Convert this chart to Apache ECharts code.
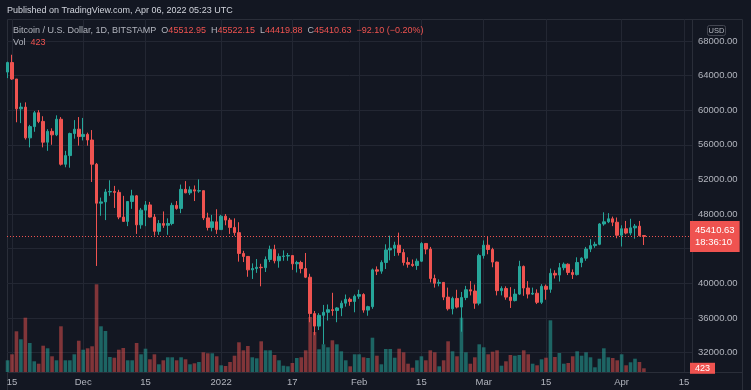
<!DOCTYPE html>
<html><head><meta charset="utf-8">
<script src="https://cdn.jsdelivr.net/npm/echarts@6.0.0/dist/echarts.min.js"></script>
<style>html,body{margin:0;padding:0;background:#131722;}#c{width:751px;height:390px;}</style>
</head><body><div id="c"></div>
<script>
// ---- data (daily BTC/USD, Bitstamp) ----
const firstDate = '2021-11-14';
const openP = [64400,65500,63600,60150,60350,56800,58100,59700,58700,56300,57550,57150,58950,53750,54750,57300,57800,
 56950,57200,56550,53750,49250,49400,50550,50600,50500,47650,47150,49450,50100,46750,48450,49050,47650,46000,46900,46700,46900,49000,48650,50850,50450,50800,50650,50700,47550,46450,47100,
 46200,47750,47300,46450,45850,43450,43100,41550,41700,41850,41800,42750,43900,42600,43100,43150,43200,42250,42400,41700,40700,36500,35050,36300,36650,36950,36850,37150,37700,38150,37900,
 38500,38700,36900,37300,41550,41400,42400,43850,44050,44400,43550,42400,42200,42050,42550,44600,43950,40550,40000,40100,38400,37050,38250,37250,38350,39250,39100,37700,
 43200,44400,43900,42450,39150,39400,38400,38000,38750,41950,39450,38750,38850,37800,39650,39300,41150,40950,41800,42200,41250,41000,42400,42900,43950,44350,44500,46850,47100,47450,47050,
 45550,46300,45800,46400,46600,45512.95];
const highP = [65600,66400,63600,60850,60900,58300,59900,60000,59300,57800,57900,59400,59200,55300,57400,58850,59200,
 59100,57400,57700,53900,49900,50900,51900,51250,50800,50100,49500,50800,50200,48700,49500,49400,48000,47300,48300,47500,49300,49500,51400,51800,51200,51300,52000,50700,48150,47900,48550,
 47900,48000,47550,47500,47050,43750,43150,42300,42800,42250,43100,44350,44450,43450,43800,43500,43200,42600,42600,43500,41100,36800,36550,37500,37550,38900,37250,38000,38700,38350,38700,
 39250,38850,37400,41700,41950,42650,44500,45500,44800,45850,43950,43000,42750,42850,44750,44600,44200,41000,40450,40150,39500,38450,39250,39000,39700,40250,39850,43400,
 44950,45400,44100,42500,39650,39650,39550,39350,42600,42050,40250,39500,39300,39900,39850,41700,41500,42350,42400,42300,41600,43000,43000,44200,45100,44800,46950,48200,48100,47700,47600,
 46700,47200,47450,46850,47200,45522.15];
const lowP = [63700,63500,58600,58500,56600,55700,57500,58500,55700,55300,56000,57000,53600,53400,53350,56700,55900,
 56500,55900,51700,42000,47800,47300,50100,48700,47400,47100,46600,48600,45700,46300,46600,47600,45500,45600,46400,45600,46700,48500,48100,50400,50200,49500,50450,47300,46100,46000,45700,
 46200,46700,45700,45500,42500,42450,40750,40500,41200,39650,41300,42450,42300,41800,42600,42600,41550,41250,41150,40600,35500,34000,34600,32950,35700,36250,35500,36200,37300,37400,36650,
 38200,36600,36250,37050,40950,41100,41650,42650,43150,43200,42050,41800,41900,41550,42450,43350,40100,39500,39650,38050,36850,36400,37100,34400,38050,38600,37050,37450,
 42850,43350,41850,38600,38600,38100,37150,37900,38650,38550,38250,38650,37600,37600,38100,38900,40550,40200,41500,40950,40500,40900,41850,42600,43600,44100,44400,46650,46950,46600,45200,
 44250,45650,45550,45150,45400,44419.88];
const closeP = [65500,63600,60150,60350,56800,58100,59700,58700,56300,57550,57150,58950,53750,54750,57300,57800,56950,
 57200,56550,53750,49250,49400,50550,50600,50500,47650,47150,49450,50100,46750,48450,49050,47650,46000,46900,46700,46900,49000,48650,50850,50450,50800,50650,50700,47550,46450,47100,46200,
 47750,47300,46450,45850,43450,43100,41550,41700,41850,41800,42750,43900,42600,43100,43150,43200,42250,42400,41700,40700,36500,35050,36300,36650,36950,36850,37150,37700,38150,37900,38500,
 38700,36900,37300,41550,41400,42400,43850,44050,44400,43550,42400,42200,42050,42550,44600,43950,40550,40000,40100,38400,37050,38250,37250,38350,39250,39100,37700,43200,
 44400,43900,42450,39150,39400,38400,38000,38750,41950,39450,38750,38850,37800,39650,39300,41150,40950,41800,42200,41250,41000,42400,42900,43950,44350,44500,46850,47100,47450,47050,45550,
 46300,45800,46400,46600,45500,45410.63];
const volume = [1334,2018,4640,3728,6190,3306,1220,946,2998,2702,1790,1334,5210,1334,1334,2018,3568,
 2542,2702,2930,9998,5210,4674,1710,1630,2542,2736,1334,1334,3306,2018,2656,1448,2018,878,1334,1676,1676,1334,1676,1448,878,992,1140,2246,2132,2132,1790,
 764,684,1140,1858,3386,2474,2964,1676,1562,3500,2474,2474,1938,1334,718,650,1026,1596,1676,2474,6270,4560,2588,3158,2816,3614,3158,2360,1334,650,2018,
 2018,1676,1596,3910,1858,878,2622,2622,1630,2656,2246,946,490,1334,1790,1334,2474,2246,650,1334,3500,2360,1790,6190,2246,946,1676,3158,
 2816,2018,2314,2474,718,1220,1938,1858,1938,2474,2018,946,764,1448,1630,5894,1710,2166,946,1026,1790,2360,1858,2246,1676,536,1516,2702,1676,1596,1334,
 2018,764,1106,1516,1140,423];
const tickDates = ['2021-11-15','2021-12-01','2021-12-15','2022-01-01','2022-01-17','2022-02-01','2022-02-15','2022-03-01','2022-03-15','2022-04-01','2022-04-15'];
const tickLabels = ['15','Dec','15','2022','17','Feb','15','Mar','15','Apr','15'];
const priceTicks = [32000,36000,40000,44000,48000,52000,56000,60000,64000,68000];
const lastPrice = 45410.63;
const lastVolume = 423;
const countdown = '18:36:10';

// ---- build ----
const UP = '#26a69a', DOWN = '#ef5350';
const VUP = 'rgba(38,166,154,0.55)', VDOWN = 'rgba(239,83,80,0.5)';
const GRID = '#232733', FRAME = '#2a2e39', TXT = '#b2b5be';
const DAY = 86400000;
const t0 = Date.parse(firstDate + 'T00:00:00Z');
const dayOf = s => Math.round((Date.parse(s + 'T00:00:00Z') - t0) / DAY);
const tickPos = tickDates.map(dayOf);
const candleData = openP.map((o, i) => [i, o, closeP[i], lowP[i], highP[i]]);
const volData = volume.map((v, i) => ({value: [i, v], itemStyle: {color: closeP[i] >= openP[i] ? VUP : VDOWN}}));
const X_MIN = -0.124, X_MAX = 153.81;
const FONT = 'Liberation Sans';

const chart = echarts.init(document.getElementById('c'), null, {renderer: 'canvas'});
chart.setOption({
  backgroundColor: '#131722',
  animation: false,
  textStyle: {fontFamily: FONT},
  grid: [
    {left: 7, right: 59, top: 19, bottom: 18, show: false},
    {left: 7, right: 59, bottom: 18, height: 100, show: false}
  ],
  xAxis: [
    {type: 'value', gridIndex: 0, min: X_MIN, max: X_MAX,
     axisLine: {show: false}, axisTick: {show: false, customValues: tickPos},
     axisLabel: {show: false, customValues: tickPos},
     splitLine: {show: true, lineStyle: {color: GRID, width: 1}}},
    {type: 'value', gridIndex: 1, min: X_MIN, max: X_MAX,
     axisLine: {show: false}, axisTick: {show: false, customValues: tickPos},
     axisLabel: {show: true, customValues: tickPos, color: TXT, fontSize: 9.5, margin: 5, fontFamily: FONT,
       formatter: v => tickLabels[tickPos.indexOf(Math.round(v))]},
     splitLine: {show: false}}
  ],
  yAxis: [
    {type: 'value', gridIndex: 0, position: 'right', min: 29750, max: 70530,
     axisLine: {show: false}, axisTick: {show: false, customValues: priceTicks},
     axisLabel: {customValues: priceTicks, color: TXT, fontSize: 9.5, margin: 6, fontFamily: FONT,
       formatter: v => v.toFixed(2)},
     splitLine: {show: true, lineStyle: {color: GRID, width: 1}}},
    {type: 'value', gridIndex: 1, min: 0, max: 11400, show: false, splitLine: {show: false}}
  ],
  series: [
    {type: 'bar', name: 'Vol', xAxisIndex: 1, yAxisIndex: 1, data: volData, barWidth: 3.6, z: 1,
     markLine: {symbol: ['none', 'none'], silent: true, animation: false,
       data: [{yAxis: lastVolume}], lineStyle: {color: 'rgba(0,0,0,0)', width: 0},
       label: {show: true, position: 'end', distance: -2, formatter: String(lastVolume), backgroundColor: DOWN, color: '#ffffff',
         fontSize: 9, padding: [1, 5, 1, 5], fontFamily: FONT}}},
    {type: 'candlestick', name: 'BTCUSD', xAxisIndex: 0, yAxisIndex: 0, data: candleData, barWidth: 3, z: 3,
     itemStyle: {color: UP, color0: DOWN, borderColor: UP, borderColor0: DOWN, borderWidth: 1},
     markLine: {symbol: ['none', 'none'], silent: true, animation: false,
       data: [{yAxis: lastPrice}], lineStyle: {color: DOWN, type: [1, 2], width: 1},
       label: {position: 'end', distance: -2, formatter: lastPrice.toFixed(2) + '\n' + countdown,
         backgroundColor: DOWN, color: '#ffffff', fontSize: 9.5, lineHeight: 12, padding: [4, 5, 3, 5], fontFamily: FONT}}}
  ],
  graphic: [
    {type: 'rect', silent: true, z: 0, shape: {x: 7.5, y: 19.5, width: 735, height: 375}, style: {fill: 'none', stroke: FRAME, lineWidth: 1}},
    {type: 'line', silent: true, z: 0, shape: {x1: 7, y1: 372.5, x2: 743, y2: 372.5}, style: {stroke: FRAME, lineWidth: 1}},
    {type: 'line', silent: true, z: 0, shape: {x1: 692.5, y1: 19, x2: 692.5, y2: 372}, style: {stroke: FRAME, lineWidth: 1}},
    {type: 'text', silent: true, z: 10, x: 7, y: 11, style: {text: 'Published on TradingView.com, Apr 06, 2022 05:23 UTC', fill: '#d1d4dc', font: '9px "Liberation Sans"', verticalAlign: 'middle'}},
    {type: 'text', silent: true, z: 10, x: 13, y: 31, style: {
      text: '{g|Bitcoin / U.S. Dollar, 1D, BITSTAMP}  {g|O}{r|45512.95}  {g|H}{r|45522.15}  {g|L}{r|44419.88}  {g|C}{r|45410.63}  {r|\u221292.10 (\u22120.20%)}',
      verticalAlign: 'middle', font: '9px "Liberation Sans"',
      rich: {g: {fill: TXT, font: '9px "Liberation Sans"'}, r: {fill: DOWN, font: '9px "Liberation Sans"'}}}},
    {type: 'text', silent: true, z: 10, x: 13, y: 43, style: {
      text: '{g|Vol}  {r|423}', verticalAlign: 'middle', font: '9px "Liberation Sans"',
      rich: {g: {fill: TXT, font: '9px "Liberation Sans"'}, r: {fill: DOWN, font: '9px "Liberation Sans"'}}}},
    {type: 'rect', silent: true, z: 10, shape: {x: 707.5, y: 25.5, width: 18, height: 10, r: 2}, style: {fill: '#131722', stroke: '#434651', lineWidth: 1}},
    {type: 'text', silent: true, z: 11, x: 716.5, y: 30.5, style: {text: 'USD', fill: TXT, font: '7.5px "Liberation Sans"', align: 'center', verticalAlign: 'middle'}}
  ]
});
</script>
</body></html>
